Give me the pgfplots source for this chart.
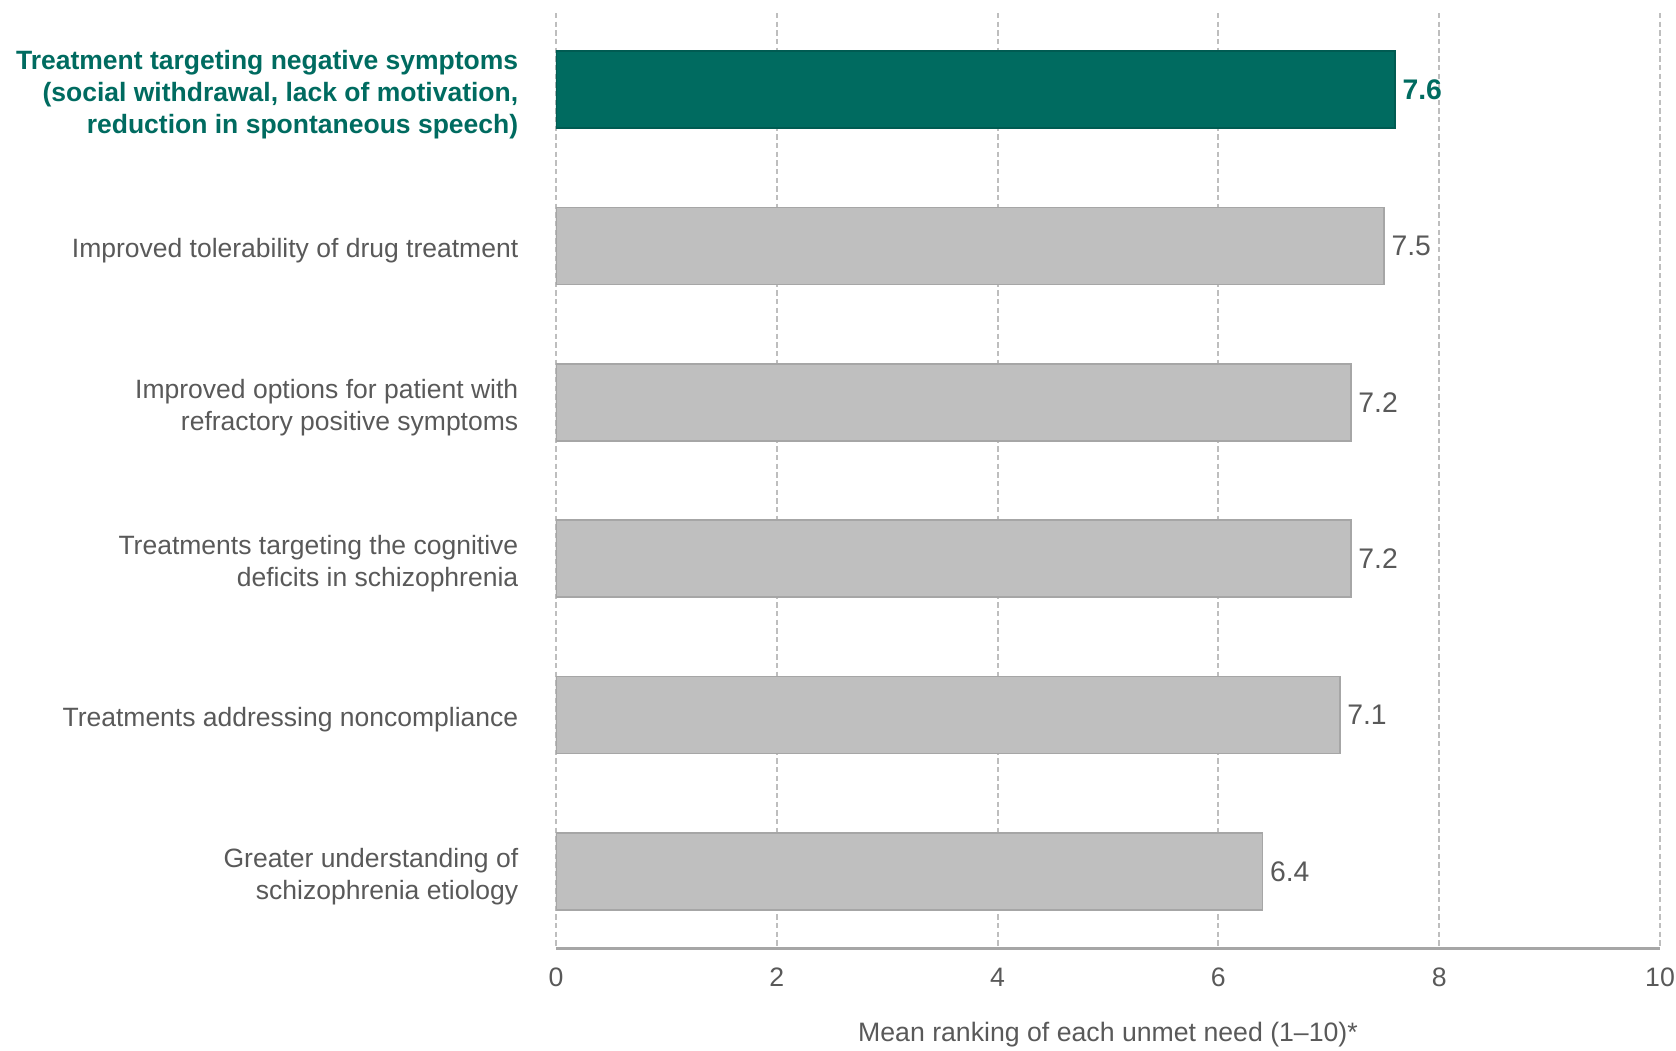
\documentclass[border=0pt]{standalone}
\usepackage{fontspec}
\setmainfont{Liberation Sans}
\usepackage{pgfplots}
\pgfplotsset{compat=1.18}
\definecolor{tgreen}{HTML}{006B60}
\definecolor{bargray}{HTML}{BFBFBF}
\definecolor{baredge}{HTML}{A6A6A6}
\definecolor{txt}{HTML}{595959}
\definecolor{gridc}{HTML}{BEBEBE}
\begin{document}
\begin{tikzpicture}
\begin{axis}[
  scale only axis, width=331.2pt, height=280.5pt,
  xmin=0, xmax=10, ymin=-0.49, ymax=5.49, y dir=reverse,
  xbar, bar width=23.1pt, bar shift=0pt,
  xtick={0,2,4,6,8,10}, ytick={0,1,2,3,4,5},
  yticklabels={
    {\bfseries\color{tgreen}Treatment targeting negative symptoms\\\bfseries\color{tgreen}(social withdrawal, lack of motivation,\\\bfseries\color{tgreen}reduction in spontaneous speech)},
    {Improved tolerability of drug treatment},
    {Improved options for patient with\\refractory positive symptoms},
    {Treatments targeting the cognitive\\deficits in schizophrenia},
    {Treatments addressing noncompliance},
    {Greater understanding of\\schizophrenia etiology}},
  yticklabel style={align=right, text=txt, font=\fontsize{7.95}{9.6}\selectfont, xshift=-7.8pt, yshift=-1.5pt},
  xticklabel style={text=txt, font=\fontsize{8}{9.6}\selectfont, yshift=-2.5pt},
  /pgf/number format/assume math mode=true,
  major tick length=0pt,
  xmajorgrids, grid style={gridc, line width=0.6pt, dash pattern=on 1.6pt off 1pt},
  axis x line*=bottom, axis y line*=left,
  y axis line style={draw=none},
  x axis line style={draw=baredge, line width=0.9pt, -},
  xlabel={Mean ranking of each unmet need (1–10)*},
  xlabel style={at={(axis description cs:0.5,0)}, anchor=center, yshift=-26pt, text=txt, font=\fontsize{8}{9.6}\selectfont},
  nodes near coords,
  nodes near coords style={anchor=west, inner sep=2pt, text=txt, font=\fontsize{8.5}{10}\selectfont,
    /pgf/number format/fixed, /pgf/number format/precision=1, /pgf/number format/fixed zerofill},
]
\addplot[fill=tgreen, draw=tgreen!85!black, line width=0.5pt,
  nodes near coords style={text=tgreen, font=\fontsize{8.5}{10}\selectfont\bfseries}]
  coordinates {(7.6,0)};
\addplot[fill=bargray, draw=baredge, line width=0.5pt]
  coordinates {(7.5,1) (7.2,2) (7.2,3) (7.1,4) (6.4,5)};
\end{axis}
\pgfresetboundingbox
\path ([xshift=-166.8pt,yshift=3.9pt]current axis.north west) rectangle ([xshift=4.8pt,yshift=-30.6pt]current axis.south east);
\end{tikzpicture}
\end{document}
